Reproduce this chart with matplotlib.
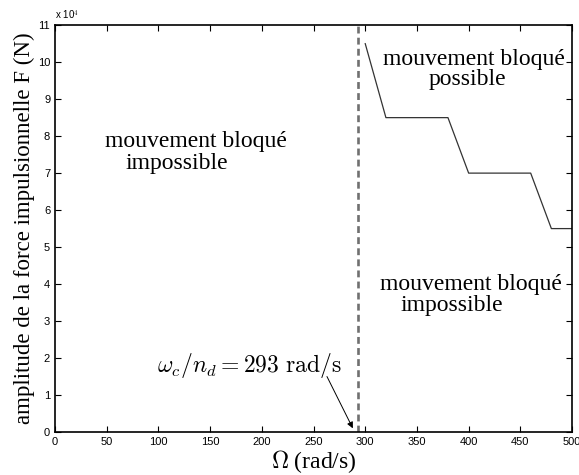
import matplotlib
matplotlib.use('Agg')
import matplotlib.pyplot as plt
from matplotlib.ticker import FuncFormatter

# limite mouvement bloque (rad/s, N)
omega = [300, 320, 380, 400, 460, 480, 500]
force = [10.5e4, 8.5e4, 8.5e4, 7.0e4, 7.0e4, 5.5e4, 5.5e4]
omega_c = 293

xticks = list(range(0, 501, 50))
yticks = [i * 1e4 for i in range(0, 12)]

plt.rcParams['mathtext.fontset'] = 'cm'
serif = 'Liberation Serif'
sans = 'Liberation Sans'

fig = plt.figure(figsize=(5.79, 4.75), dpi=100)
ax = fig.add_axes([0.095, 0.0905, 0.893, 0.8565])

ax.plot([omega_c, omega_c], [0, 11e4], '--', color='#707070', linewidth=1.9, dashes=(2.6, 1.6))
ax.plot(omega, force, '-', color='#333333', linewidth=0.9)

ax.set_xlim(0, 500)
ax.set_ylim(0, 11e4)
ax.set_xticks(xticks)
ax.set_yticks(yticks)
ax.yaxis.set_major_formatter(FuncFormatter(lambda v, p: '%d' % round(v / 1e4)))
ax.tick_params(direction='in', top=True, right=True, length=4, width=0.8, labelsize=8)
for lab in ax.get_xticklabels() + ax.get_yticklabels():
    lab.set_fontfamily(sans)
for s in ax.spines.values():
    s.set_linewidth(1.2)

ax.text(0.0, 1.008, r'x 10$^4$', transform=ax.transAxes, fontsize=7, family=sans,
        ha='left', va='bottom')

ax.set_xlabel(r'$\Omega$ (rad/s)', family=serif, fontsize=17, labelpad=1)
ax.set_ylabel('amplitude de la force impulsionnelle F (N)', family=serif, fontsize=16.5, labelpad=2)

tf = dict(family=serif, fontsize=17, va='center', ha='left')
ax.text(48, 7.86e4, 'mouvement bloqué', **tf)
ax.text(68, 7.25e4, 'impossible', **tf)
ax.text(317, 10.07e4, 'mouvement bloqué', **tf)
ax.text(361, 9.52e4, 'possible', **tf)
ax.text(314, 3.99e4, 'mouvement bloqué', **tf)
ax.text(334, 3.41e4, 'impossible', **tf)

ax.text(277, 1.81e4, r'$\omega_c/n_d = 293\ \mathrm{rad/s}$', fontsize=17,
        ha='right', va='center')
ax.annotate('', xy=(288, 0.1e4), xytext=(263, 1.5e4),
            arrowprops=dict(arrowstyle='-|>', color='black', linewidth=0.7,
                            shrinkA=0, shrinkB=0, mutation_scale=9))

fig.savefig('out.png', dpi=100)
